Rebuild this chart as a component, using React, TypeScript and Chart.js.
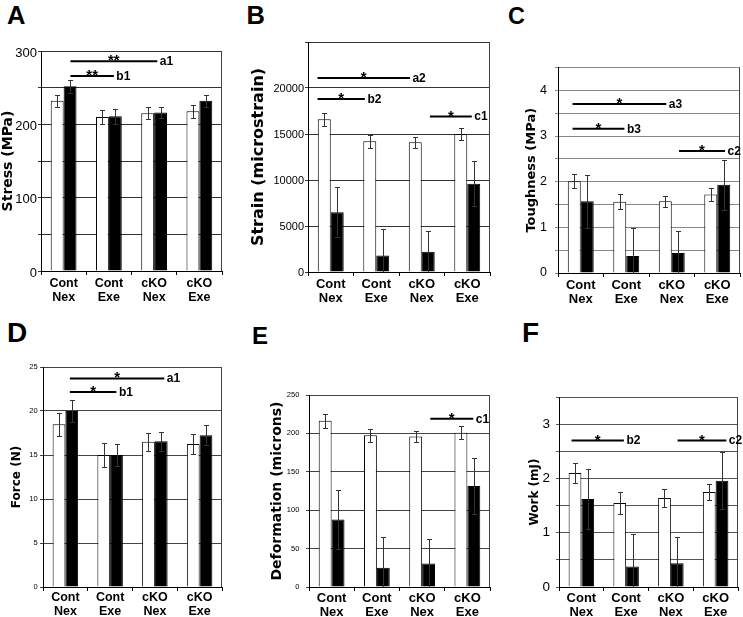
import React, { useEffect, useRef } from 'react';
import { Chart, registerables } from 'chart.js';
Chart.register(...registerables);

// ---------- DATA ----------
const categories = [['Cont', 'Nex'], ['Cont', 'Exe'], ['cKO', 'Nex'], ['cKO', 'Exe']];

// A: Stress (MPa)
const stressWhite = [232, 210, 215, 218];
const stressWhiteErr = [8, 10, 8, 9];
const stressBlack = [252, 211, 216, 232];
const stressBlackErr = [9, 10, 7, 8];
const stressTicks = [0, 100, 200, 300];

// B: Strain (microstrain)
const strainWhite = [16600, 14200, 14100, 15000];
const strainWhiteErr = [700, 700, 600, 600];
const strainBlack = [6500, 1800, 2200, 9600];
const strainBlackErr = [2700, 2900, 2300, 2450];
const strainTicks = [0, 5000, 10000, 15000, 20000];

// C: Toughness (MPa)
const toughWhite = [2.01, 1.56, 1.57, 1.72];
const toughWhiteErr = [0.15, 0.16, 0.12, 0.14];
const toughBlack = [1.57, 0.37, 0.44, 1.93];
const toughBlackErr = [0.58, 0.62, 0.49, 0.54];
const toughTicks = [0, 1, 2, 3, 4];

// D: Force (N)
const forceWhite = [18.5, 15.0, 16.5, 16.25];
const forceWhiteErr = [1.3, 1.35, 1.05, 1.15];
const forceBlack = [20.0, 15.0, 16.55, 17.25];
const forceBlackErr = [1.3, 1.3, 1.1, 1.15];
const forceTicks = [0, 5, 10, 15, 20, 25];

// E: Deformation (microns)
const deformWhite = [216.5, 197.5, 196, 201];
const deformWhiteErr = [9, 8.5, 7, 8];
const deformBlack = [88, 25, 30.5, 131.5];
const deformBlackErr = [38, 40, 32, 36];
const deformTicks = [0, 50, 100, 150, 200, 250];

// F: Work (mJ)
const workWhite = [2.10, 1.55, 1.64, 1.75];
const workWhiteErr = [0.19, 0.20, 0.16, 0.15];
const workBlack = [1.62, 0.38, 0.44, 1.96];
const workBlackErr = [0.56, 0.60, 0.48, 0.52];
const workTicks = [0, 1, 2, 3];

// significance brackets: [from (category index), to, y value, stars, label]
const stressBrackets: [number, number, number, string, string][] = [
  [0.15, 2.07, 286, '**', 'a1'],
  [0.15, 1.11, 266, '**', 'b1'],
];
const strainBrackets: [number, number, number, string, string][] = [
  [-0.29, 1.74, 21100, '*', 'a2'],
  [-0.29, 0.75, 18800, '*', 'b2'],
  [2.18, 3.1, 16900, '*', 'c1'],
];
const toughBrackets: [number, number, number, string, string][] = [
  [-0.18, 1.88, 3.70, '*', 'a3'],
  [-0.18, 0.96, 3.16, '*', 'b3'],
  [2.16, 3.17, 2.67, '*', 'c2'],
];
const forceBrackets: [number, number, number, string, string][] = [
  [0.1, 2.21, 23.7, '*', 'a1'],
  [0.1, 1.14, 22.16, '*', 'b1'],
];
const deformBrackets: [number, number, number, string, string][] = [
  [2.18, 3.13, 219, '*', 'c1'],
];
const workBrackets: [number, number, number, string, string][] = [
  [-0.22, 0.95, 2.70, '*', 'b2'],
  [2.15, 3.24, 2.70, '*', 'c2'],
];

// ---------- STYLE / LAYOUT ----------
const NARROW = "'Liberation Sans Narrow', 'Arial Narrow', 'Liberation Sans', Arial, sans-serif";
const SANS = "'Liberation Sans', Arial, sans-serif";
const DEJAVU = "'DejaVu Sans', sans-serif";

interface Spec {
  letter: string; letterX: number; letterBase: number; letterSize: number;
  title: string; titleFamily: string; titleSize: number; titleX: number;
  plot: [number, number, number, number];
  yMax: number; yStep: number; labels: number[];
  tickSize: number; tickPad: number; tickOffset: number;
  xMid: number; xSize: number; gridColor: string;
  white: number[]; whiteErr: number[]; black: number[]; blackErr: number[];
  brackets: [number, number, number, string, string][];
}

const specs: Spec[] = [
  { letter: 'A', letterX: 7, letterBase: 25, letterSize: 25.5, title: 'Stress (MPa)', titleFamily: DEJAVU, titleSize: 14, titleX: 8,
    plot: [41, 51, 222, 271], yMax: 300, yStep: 50, labels: stressTicks, tickSize: 13, tickPad: 1, tickOffset: 2,
    xMid: 12.6, xSize: 12.5, gridColor: '#333',
    white: stressWhite, whiteErr: stressWhiteErr, black: stressBlack, blackErr: stressBlackErr, brackets: stressBrackets },
  { letter: 'B', letterX: 246.5, letterBase: 25, letterSize: 25.5, title: 'Strain (microstrain)', titleFamily: DEJAVU, titleSize: 16, titleX: 258.7,
    plot: [308, 42, 490, 272], yMax: 25000, yStep: 5000, labels: strainTicks, tickSize: 11, tickPad: 1, tickOffset: 1,
    xMid: 12.3, xSize: 13, gridColor: '#333',
    white: strainWhite, whiteErr: strainWhiteErr, black: strainBlack, blackErr: strainBlackErr, brackets: strainBrackets },
  { letter: 'C', letterX: 508, letterBase: 25, letterSize: 23.5, title: 'Toughness (MPa)', titleFamily: DEJAVU, titleSize: 13, titleX: 532,
    plot: [558, 66, 740, 273], yMax: 4.5, yStep: 0.5, labels: toughTicks, tickSize: 12.5, tickPad: 8, tickOffset: 0,
    xMid: 12.3, xSize: 13, gridColor: '#888',
    white: toughWhite, whiteErr: toughWhiteErr, black: toughBlack, blackErr: toughBlackErr, brackets: toughBrackets },
  { letter: 'D', letterX: 7, letterBase: 343, letterSize: 28, title: 'Force (N)', titleFamily: DEJAVU, titleSize: 12, titleX: 16.7,
    plot: [43, 367, 222, 587], yMax: 25, yStep: 5, labels: forceTicks, tickSize: 7.5, tickPad: 2.4, tickOffset: 0,
    xMid: 10.4, xSize: 12.5, gridColor: '#444',
    white: forceWhite, whiteErr: forceWhiteErr, black: forceBlack, blackErr: forceBlackErr, brackets: forceBrackets },
  { letter: 'E', letterX: 252, letterBase: 344, letterSize: 24, title: 'Deformation (microns)', titleFamily: DEJAVU, titleSize: 14, titleX: 277.5,
    plot: [309, 395, 490, 587], yMax: 250, yStep: 50, labels: deformTicks, tickSize: 7.5, tickPad: 6.7, tickOffset: 0,
    xMid: 10.5, xSize: 13, gridColor: '#444',
    white: deformWhite, whiteErr: deformWhiteErr, black: deformBlack, blackErr: deformBlackErr, brackets: deformBrackets },
  { letter: 'F', letterX: 522, letterBase: 343, letterSize: 28, title: 'Work (mJ)', titleFamily: DEJAVU, titleSize: 12, titleX: 535,
    plot: [559, 397, 738, 587], yMax: 3.5, yStep: 0.5, labels: workTicks, tickSize: 13.5, tickPad: 6, tickOffset: 0,
    xMid: 10.5, xSize: 13, gridColor: '#555',
    white: workWhite, whiteErr: workWhiteErr, black: workBlack, blackErr: workBlackErr, brackets: workBrackets },
];

const TOP_PAD = 14;
const X_TICK_LEN = 4;

function Panel({ spec }: { spec: Spec }) {
  const ref = useRef<HTMLCanvasElement>(null);
  const [l, t, r, b] = spec.plot;
  const cx = Math.max(0, Math.round(spec.titleX - 10));
  const cy = t - TOP_PAD;
  const rightPad = Math.min(12, 743 - r);
  const leftW = l - cx;
  const bottomH = b < 400 ? 38 : 617 - b;
  const w = r + rightPad - cx;
  const h = b + bottomH - cy;
  const titlePadTop = Math.max(0, spec.titleX - cx - spec.titleSize / 2);
  const xLine = 14;
  const xPad = Math.max(0, spec.xMid - X_TICK_LEN - xLine / 2);

  useEffect(() => {
    const canvas = ref.current!;
    const decor = {
      id: 'decor',
      afterDatasetsDraw(chart: any) {
        const ctx = chart.ctx as CanvasRenderingContext2D;
        const ca = chart.chartArea;
        const xs = chart.scales.x;
        const ys = chart.scales.y;
        // error bars
        ctx.save();
        ctx.beginPath();
        ctx.rect(ca.left, ca.top - 1, ca.right - ca.left, ca.bottom - ca.top + 1);
        ctx.clip();
        ctx.strokeStyle = '#333';
        ctx.lineWidth = 1;
        [spec.whiteErr, spec.blackErr].forEach((errs, d) => {
          const meta = chart.getDatasetMeta(d);
          const vals = chart.data.datasets[d].data as number[];
          meta.data.forEach((el: any, i: number) => {
            const v = vals[i];
            const e = errs[i];
            const px = Math.round(el.x) + 0.5;
            const top = Math.round(ys.getPixelForValue(v + e)) + 0.5;
            const bot = Math.round(ys.getPixelForValue(v - e)) + 0.5;
            ctx.beginPath();
            ctx.moveTo(px, top); ctx.lineTo(px, bot);
            ctx.moveTo(px - 2.5, top); ctx.lineTo(px + 2.5, top);
            ctx.moveTo(px - 2.5, bot); ctx.lineTo(px + 2.5, bot);
            ctx.stroke();
          });
        });
        ctx.restore();
        // right border
        ctx.save();
        ctx.strokeStyle = '#444';
        ctx.lineWidth = 1;
        ctx.beginPath();
        ctx.moveTo(Math.round(ca.right) - 0.5, ca.top);
        ctx.lineTo(Math.round(ca.right) - 0.5, ca.bottom);
        ctx.stroke();
        ctx.restore();
        // significance brackets
        const unit = xs.getPixelForValue(1) - xs.getPixelForValue(0);
        const x0 = xs.getPixelForValue(0);
        ctx.save();
        spec.brackets.forEach(([from, to, yv, star, label]) => {
          const a = x0 + from * unit;
          const z = x0 + to * unit;
          const py = ys.getPixelForValue(yv);
          ctx.strokeStyle = '#000';
          ctx.lineWidth = 2;
          ctx.beginPath();
          ctx.moveTo(a, py);
          ctx.lineTo(z, py);
          ctx.stroke();
          ctx.fillStyle = '#000';
          ctx.font = `bold 15px ${SANS}`;
          ctx.textAlign = 'center';
          ctx.textBaseline = 'alphabetic';
          ctx.fillText(star, (a + z) / 2, py + 4);
          ctx.font = `bold 12px ${NARROW}`;
          ctx.textAlign = 'left';
          ctx.textBaseline = 'middle';
          ctx.fillText(label, z + 2.5, py + 0.5);
        });
        ctx.restore();
      },
    };

    const chart = new Chart(canvas, {
      type: 'bar',
      data: {
        labels: categories as any,
        datasets: [
          { data: spec.white, backgroundColor: '#ffffff', borderColor: '#000', borderWidth: 1 },
          { data: spec.black, backgroundColor: '#000000', borderColor: '#000', borderWidth: 1 },
        ],
      },
      options: {
        responsive: false,
        animation: false,
        events: [],
        layout: { padding: { top: TOP_PAD, right: rightPad, left: 0, bottom: 0 } },
        plugins: { legend: { display: false }, tooltip: { enabled: false }, title: { display: false } },
        datasets: { bar: { barPercentage: 1, categoryPercentage: 0.57 } },
        scales: {
          x: {
            type: 'category',
            offset: true,
            grid: { display: true, drawOnChartArea: false, drawTicks: true, tickLength: X_TICK_LEN, color: '#000', offset: true },
            border: { display: true, color: '#000', width: 1 },
            ticks: {
              color: '#000',
              font: { family: NARROW, size: spec.xSize, weight: 'bold', lineHeight: xLine / spec.xSize },
              padding: xPad,
              maxRotation: 0,
              autoSkip: false,
            },
            afterFit: (s: any) => { s.height = bottomH; },
          },
          y: {
            min: 0,
            max: spec.yMax,
            grid: { color: spec.gridColor, tickLength: 3, drawTicks: true, lineWidth: 1 },
            border: { display: true, color: '#000', width: 1 },
            ticks: {
              stepSize: spec.yStep,
              color: '#000',
              font: { family: NARROW, size: spec.tickSize },
              padding: spec.tickPad,
              labelOffset: spec.tickOffset,
              callback: (v: any) => {
                const n = Number(v);
                return spec.labels.some((q) => Math.abs(q - n) < 1e-9) ? String(n) : '';
              },
            },
            title: {
              display: true,
              text: spec.title,
              color: '#000',
              font: { family: spec.titleFamily, size: spec.titleSize, weight: 'bold', lineHeight: 1 },
              padding: { top: titlePadTop, bottom: 0 },
            },
            afterFit: (s: any) => { s.width = leftW; },
          },
        },
      } as any,
      plugins: [decor],
    });
    return () => chart.destroy();
  }, []);

  return (
    <>
      <div
        style={{
          position: 'absolute',
          left: spec.letterX,
          top: spec.letterBase - 0.8465 * spec.letterSize,
          fontFamily: SANS,
          fontWeight: 'bold',
          fontSize: spec.letterSize,
          lineHeight: `${spec.letterSize}px`,
          color: '#000',
        }}
      >
        {spec.letter}
      </div>
      <canvas
        ref={ref}
        width={w}
        height={h}
        style={{ position: 'absolute', left: cx, top: cy, width: w, height: h }}
      />
    </>
  );
}

export default function App() {
  return (
    <div style={{ position: 'absolute', left: 0, top: 0, width: 743, height: 617, background: '#fff', overflow: 'hidden' }}>
      {specs.map((s) => (
        <Panel key={s.letter} spec={s} />
      ))}
    </div>
  );
}
